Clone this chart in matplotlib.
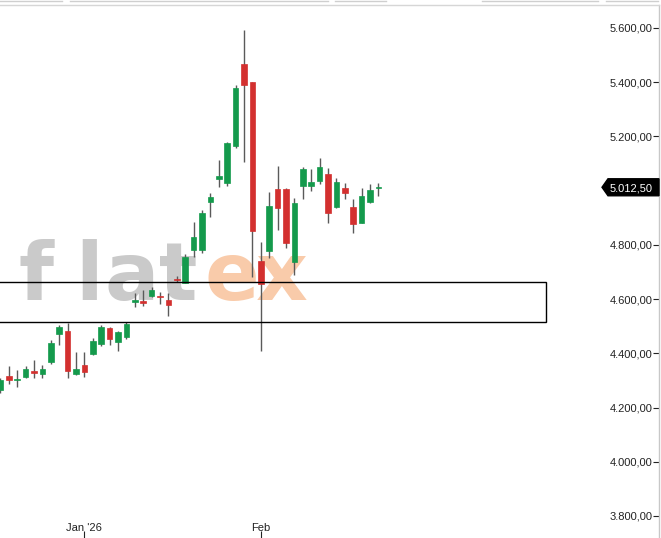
import matplotlib
matplotlib.use('Agg')
import matplotlib.pyplot as plt
import matplotlib.transforms as mtransforms
from matplotlib.patches import Rectangle, Polygon
from matplotlib.lines import Line2D

plt.rcParams['font.family'] = ['Liberation Sans', 'DejaVu Sans']

# daily candles, late Dec 2025 .. mid Feb 2026
opens = [4265, 4316, 4302, 4314, 4332, 4322, 4369, 4471, 4483, 4324,
         4357, 4397, 4434, 4492, 4443, 4461, 4588, 4592, 4613, 4613,
         4597, 4674, 4661, 4781, 4781, 4959, 5042, 5027, 5165, 5467,
         5402, 4742, 4778, 5005, 5005, 4738, 5018, 5018, 5037, 5061,
         4941, 5009, 4939, 4882, 4957, 5008]
highs = [4310, 4353, 4338, 4353, 4375, 4357, 4449, 4504, 4513, 4406,
         4406, 4456, 4504, 4496, 4483, 4517, 4621, 4634, 4646, 4628,
         4621, 4685, 4766, 4885, 4929, 4990, 5113, 5181, 5390, 5593,
         5402, 4812, 4996, 5091, 5008, 4972, 5089, 5079, 5119, 5082,
         5046, 5029, 4968, 5008, 5023, 5029]
lows = [4255, 4287, 4276, 4308, 4308, 4308, 4360, 4431, 4308, 4320,
        4314, 4394, 4427, 4431, 4410, 4453, 4570, 4575, 4607, 4582,
        4539, 4662, 4658, 4756, 4769, 4902, 5012, 5018, 5156, 5107,
        4683, 4410, 4752, 4855, 4787, 4689, 4968, 5000, 5023, 4882,
        4935, 4968, 4843, 4880, 4956, 4980]
closes = [4302, 4302, 4306, 4341, 4328, 4342, 4439, 4498, 4335, 4342,
          4330, 4447, 4496, 4452, 4478, 4508, 4597, 4586, 4634, 4607,
          4578, 4670, 4757, 4830, 4919, 4978, 5055, 5175, 5378, 5390,
          4852, 4654, 4943, 4937, 4808, 4954, 5079, 5031, 5086, 4916,
          5032, 4993, 4876, 4982, 5002, 5012.5]

month_pos = [10, 31]
month_labels = ["Jan '26", "Feb"]
price_ticks = [3800, 4000, 4200, 4400, 4600, 4800, 5000, 5200, 5400, 5600]
zone_low = 4515
zone_high = 4663
zone_end = 65

green = '#149a4c'
red = '#d3302f'


def de_fmt(v):
    s = "{:,.2f}".format(v)
    return s.replace(',', 'X').replace('.', ',').replace('X', '.')


fig = plt.figure(figsize=(6.61, 5.38), dpi=100)
ax = fig.add_axes([0, 0, 659 / 661, 533 / 538])

# watermark
wm = [('f', 18, '#cacaca'), ('l', 75, '#cacaca'), ('a', 104, '#cacaca'),
      ('t', 159, '#cacaca'), ('e', 204, '#f9cbaa'), ('x', 256, '#f9cbaa')]
for ch, px, col in wm:
    ax.text(px / 661, 1 - 300 / 538, ch, transform=fig.transFigure,
            fontsize=58, color=col, fontweight='bold', family='DejaVu Sans',
            ha='left', va='baseline', zorder=0)

x = list(range(len(opens)))
for i in x:
    o, h, l, c = opens[i], highs[i], lows[i], closes[i]
    col = green if c >= o else red
    ax.vlines(i, l, h, color='#5a5a5a', lw=1, zorder=2)
    body = max(abs(c - o), 5)
    ax.bar(i, body, bottom=min(o, c), width=0.66, color=col,
           edgecolor=col, lw=0.5, zorder=3)

# support zone box
ax.add_patch(Rectangle((-5, zone_low), zone_end + 5, zone_high - zone_low,
                       fill=False, edgecolor='black', lw=1, zorder=4))

ax.set_xlim(-0.04, 78.4)
ax.set_ylim(3718.8, 5684.8)

# last price tag covers the 5.000 label
last = closes[-1]
ax.yaxis.tick_right()
ax.set_yticks(price_ticks)
ax.set_yticklabels(['' if abs(v - last) < 60 else de_fmt(v) for v in price_ticks])
ax.tick_params(axis='y', direction='in', length=4, pad=-4.8, labelsize=8,
               colors='#222222')
plt.setp(ax.get_yticklabels(), ha='right')

ax.set_xticks(month_pos)
ax.set_xticklabels(month_labels)
ax.tick_params(axis='x', direction='in', length=5, pad=-5.2, labelsize=8,
               colors='#222222')
plt.setp(ax.get_xticklabels(), va='baseline')

for s in ['left', 'bottom']:
    ax.spines[s].set_visible(False)
ax.spines['right'].set_color('#c8c8c8')
ax.spines['top'].set_color('#d6d6d6')
ax.spines['right'].set_linewidth(1)
ax.spines['top'].set_linewidth(1)

trans = mtransforms.blended_transform_factory(ax.transAxes, ax.transData)
hh = 8.5 / 0.2711
tag = Polygon([(602 / 659, last), (608 / 659, last + hh), (1.0, last + hh),
               (1.0, last - hh), (608 / 659, last - hh)], closed=True,
              transform=trans, facecolor='black', edgecolor='black',
              clip_on=False, zorder=5)
ax.add_patch(tag)
ax.text(652.5 / 659, last, de_fmt(last), transform=trans, color='white',
        fontsize=8, ha='right', va='center_baseline', zorder=6)

# toolbar edge at the very top
for a, b in [(0, 62), (70, 328), (335, 386), (482, 598), (606, 658)]:
    fig.add_artist(Line2D([a / 661, b / 661], [537.3 / 538, 537.3 / 538],
                          color='#cfcfcf', lw=1))

fig.savefig('out.png', dpi=100)
